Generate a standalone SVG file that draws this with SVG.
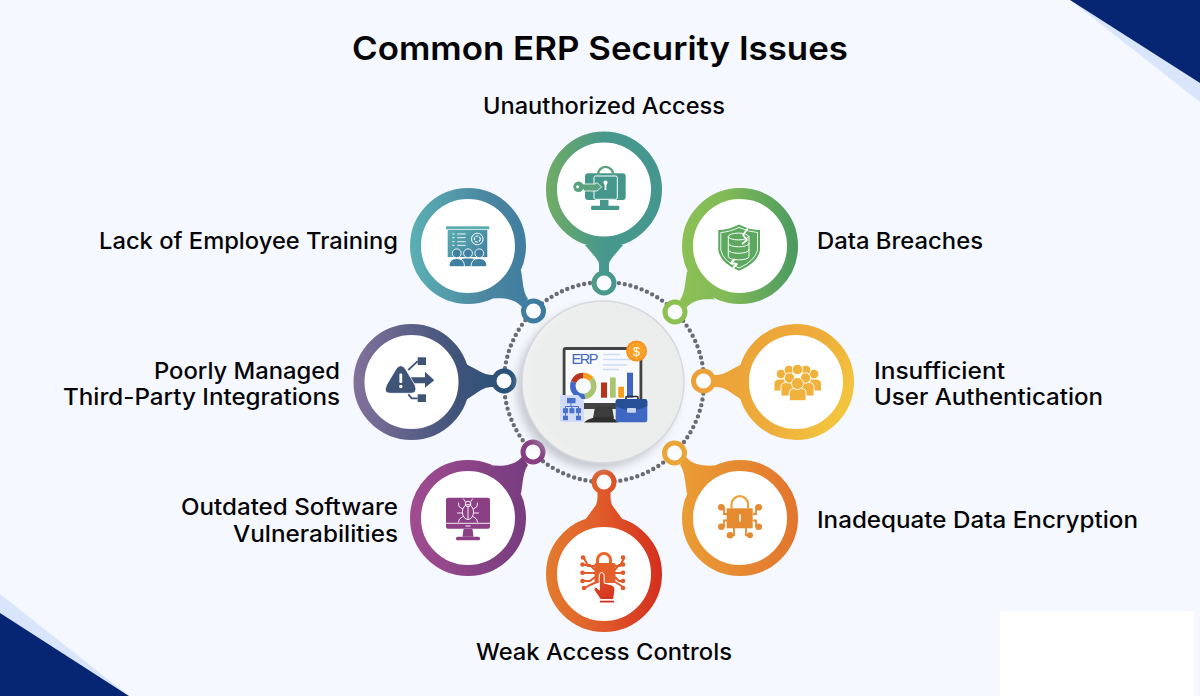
<svg xmlns="http://www.w3.org/2000/svg" width="1200" height="696" viewBox="0 0 1200 696">
<style>
text{font-family:"Inter","Noto Sans","Liberation Sans",sans-serif;fill:#050507}
.l{font-size:22.5px;font-weight:500}
.t{font-size:33px;font-weight:600}
.ring{stroke-width:11;fill:#fff}
.tab{stroke-width:5;fill:#fbfcff}
.w{fill:none;stroke:#fff;stroke-linecap:round;stroke-linejoin:round}
.e{font-family:"Liberation Sans",Arial,sans-serif}
</style>
<defs>
<linearGradient id="g1" gradientUnits="userSpaceOnUse" x1="546" y1="190" x2="662" y2="190"><stop offset="0" stop-color="#70ac64"/><stop offset=".5" stop-color="#47988c"/><stop offset="1" stop-color="#45968f"/></linearGradient>
<linearGradient id="g2" gradientUnits="userSpaceOnUse" x1="665" y1="246" x2="798" y2="246"><stop offset="0" stop-color="#8fc353"/><stop offset=".45" stop-color="#82ba57"/><stop offset="1" stop-color="#4a9a60"/></linearGradient>
<linearGradient id="g3" gradientUnits="userSpaceOnUse" x1="410" y1="246" x2="546" y2="246"><stop offset="0" stop-color="#5bb0b3"/><stop offset=".6" stop-color="#4a84a0"/><stop offset="1" stop-color="#3b7a9f"/></linearGradient>
<linearGradient id="g4" gradientUnits="userSpaceOnUse" x1="354" y1="382" x2="517" y2="382"><stop offset="0" stop-color="#82719a"/><stop offset=".65" stop-color="#3e5379"/><stop offset="1" stop-color="#245277"/></linearGradient>
<linearGradient id="g5" gradientUnits="userSpaceOnUse" x1="700" y1="345" x2="850" y2="430"><stop offset="0" stop-color="#eb9e37"/><stop offset=".6" stop-color="#eead3a"/><stop offset="1" stop-color="#f4cc3f"/></linearGradient>
<linearGradient id="g6" gradientUnits="userSpaceOnUse" x1="662" y1="500" x2="798" y2="500"><stop offset="0" stop-color="#eca436"/><stop offset="1" stop-color="#e2752e"/></linearGradient>
<linearGradient id="g7" gradientUnits="userSpaceOnUse" x1="546" y1="570" x2="662" y2="570"><stop offset="0" stop-color="#e37c2f"/><stop offset=".5" stop-color="#e0592a"/><stop offset="1" stop-color="#d42e1e"/></linearGradient>
<linearGradient id="g8" gradientUnits="userSpaceOnUse" x1="410" y1="500" x2="546" y2="500"><stop offset="0" stop-color="#a14c90"/><stop offset="1" stop-color="#6f3a7c"/></linearGradient>
<linearGradient id="i3" gradientUnits="userSpaceOnUse" x1="446" y1="226" x2="489" y2="267"><stop offset="0" stop-color="#5cb0b2"/><stop offset="1" stop-color="#3c7a9d"/></linearGradient>
<linearGradient id="i7" gradientUnits="userSpaceOnUse" x1="600" y1="552" x2="606" y2="603"><stop offset="0" stop-color="#e8702c"/><stop offset="1" stop-color="#d42e1e"/></linearGradient>
<radialGradient id="disc" cx=".55" cy=".5" r=".55"><stop offset="0" stop-color="#eeefef"/><stop offset=".85" stop-color="#ebecec"/><stop offset="1" stop-color="#f1f1f2"/></radialGradient>
<filter id="sh" x="-30%" y="-30%" width="160%" height="160%"><feGaussianBlur stdDeviation="5"/></filter>
</defs>

<rect id="background" width="1200" height="696" fill="#f5f8ff"/>
<rect x="1000" y="611" width="194" height="85" fill="#fff"/>
<polygon points="1070,0 1200,102 1200,83" fill="#d9e5fb"/>
<polygon points="1070,0 1200,83 1200,0" fill="#062673"/>
<polygon points="0,594 129,696 0,613" fill="#d9e5fb"/>
<polygon points="0,613 129,696 0,696" fill="#062673"/>

<text class="t" x="600" y="60" text-anchor="middle" textLength="496" lengthAdjust="spacingAndGlyphs">Common ERP Security Issues</text>

<g id="connectors">
<circle cx="604" cy="382" r="100" fill="none" stroke="#696d72" stroke-width="4.4" stroke-linecap="round" stroke-dasharray="0 5.85"/>
<path fill="url(#g1)" d="M585,245 L596,258 Q599.5,262 599,266 L599,272 L609,272 L609,266 Q608.5,262 612,258 L623,245Z"/>
<circle class="tab" cx="604" cy="283" r="10" stroke="url(#g1)"/>
<path fill="url(#g2)" d="M715,299.5 C705,299 694,299 686,308 L680,300 C685,293 685,283 687,271Z"/>
<circle class="tab" cx="675" cy="312" r="10" stroke="#8cc152"/>
<path fill="url(#g5)" d="M742,364 L727,372 Q722,375 717,375 L711,375 L711,387 L717,387 Q722,387 727,390 L742,400Z"/>
<circle class="tab" cx="703.5" cy="381" r="10" stroke="url(#g5)"/>
<path fill="url(#g6)" d="M715,465.5 C705,466 694,466 686,457 L680,465 C685,472 685,482 687,494Z"/>
<circle class="tab" cx="674.5" cy="453" r="10" stroke="#eca436"/>
<path fill="url(#g7)" d="M585,520 L596,505 Q597.5,501 597.5,497 L597.5,491 L610.5,491 L610.5,497 Q610.5,501 612,505 L623,520Z"/>
<circle class="tab" cx="604" cy="482" r="10" stroke="url(#g7)"/>
<path fill="url(#g8)" d="M493,465.5 C503,466 514,466 522,457 L528,465 C523,472 523,482 521,494Z"/>
<circle class="tab" cx="533" cy="452" r="10" stroke="#873e80"/>
<path fill="url(#g4)" d="M466,364 L481,372 Q486,375 491,375 L497,375 L497,387 L491,387 Q486,387 481,390 L466,400Z"/>
<circle class="tab" cx="504" cy="381" r="10" stroke="url(#g4)"/>
<path fill="url(#g3)" d="M493,298.5 C503,298 514,298 522,307 L528,299 C523,292 523,282 521,270Z"/>
<circle class="tab" cx="533.5" cy="311" r="10" stroke="url(#g3)"/>
</g>

<g id="center">
<circle cx="598" cy="388" r="81" fill="#aeb2b9" opacity=".7" filter="url(#sh)"/>
<circle cx="603" cy="382" r="81" fill="url(#disc)" stroke="#d7d8dc" stroke-width="1.5"/>
<rect x="562.7" y="347" width="79.6" height="62" rx="3" fill="#434343"/>
<rect x="565.5" y="350" width="74" height="53" fill="#f8fafe"/>
<polygon points="595,407 612,407 614,418 593,418" fill="#3c3c3c"/>
<path d="M584,422.5 Q590,417 600,417 L610,417 Q615,418 618,422.5Z" fill="#2e2e2e"/>
<text class="e" x="571.5" y="363.5" font-size="14.5" textLength="27" style="fill:#3f66c0">ERP</text>
<path d="M603,354.5H620M603,359.5H632M603,365H627M603,369.5H619" stroke="#cfdaf6" stroke-width="1.5" fill="none"/>
<g fill="none" stroke-width="5.5" transform="rotate(-90 583.3 386)">
<circle cx="583.3" cy="386" r="10.5" stroke="#f59e1b" stroke-dasharray="9.2 66"/>
<circle cx="583.3" cy="386" r="10.5" stroke="#a9c56f" stroke-dasharray="22 66" stroke-dashoffset="-9.2"/>
<circle cx="583.3" cy="386" r="10.5" stroke="#4068c4" stroke-dasharray="22 66" stroke-dashoffset="-31.2"/>
<circle cx="583.3" cy="386" r="10.5" stroke="#b7351c" stroke-dasharray="12.8 66" stroke-dashoffset="-53.2"/>
</g>
<rect x="601" y="382.5" width="6" height="15.2" fill="#b9331b"/>
<rect x="610" y="377.5" width="5.7" height="20.2" fill="#a9c56f"/>
<rect x="618.3" y="386.7" width="5.7" height="11" fill="#f59e1b"/>
<rect x="627" y="372.7" width="6" height="25" fill="#3f66c0"/>
<circle cx="636.5" cy="351" r="10.5" fill="#f7941d"/>
<circle cx="636.5" cy="351" r="7.5" fill="#f9a01f" stroke="#fdc56a" stroke-width=".8" stroke-dasharray="3 2"/>
<text class="e" x="636.5" y="355.5" font-size="12.5" text-anchor="middle" style="fill:#fff">$</text>
<path d="M560,397 Q560,395 562,395 L578,395 L584,401 L584,420 Q584,422 582,422 L562,422 Q560,422 560,420Z" fill="#cfdbf9"/>
<path d="M571,403V406M565.5,410V406.5H578.5V410M571.7,406.5V410M565.5,413V416M578.5,413V416" stroke="#4a70cc" stroke-width="1" fill="none"/>
<g fill="#4a70cc"><rect x="567" y="398" width="8.5" height="5.2"/><rect x="563" y="408.2" width="5" height="5"/><rect x="569.4" y="408.2" width="5" height="5"/><rect x="576" y="408.2" width="5" height="5"/><rect x="563" y="415.7" width="5" height="4.5"/><rect x="576" y="415.7" width="5" height="4.5"/></g>
<path d="M626,400 V397.5 Q626,396.5 627,396.5 H637 Q638,396.5 638,397.5 V400" fill="none" stroke="#2b2b33" stroke-width="1.6"/>
<rect x="615.7" y="399" width="31.6" height="23.3" rx="2.5" fill="#3f68c4"/>
<path d="M615.7,401.5 Q615.7,399 618,399 H645 Q647.3,399 647.3,401.5 V406 Q640,410 631.5,410 Q623,410 615.7,406Z" fill="#264f96"/>
<rect x="627" y="408" width="9" height="4.8" rx="1" fill="#c7d4f2"/>
</g>

<g id="node-unauthorized-access">
<circle class="ring" cx="604" cy="189.5" r="52.5" stroke="url(#g1)"/>
<rect x="585" y="173.3" width="40.7" height="26.7" rx="3" fill="#45978c"/>
<path d="M600,200 H608.5 V206 H600Z" fill="#45978c"/>
<rect x="591" y="205.7" width="28.3" height="4.3" rx="1.5" fill="#45978c"/>
<path d="M598,176 V174.5 A7.6,7.6 0 0 1 613.2,174.5 V176" fill="none" stroke="#5aa27e" stroke-width="2.4"/>
<rect x="594" y="176" width="23.3" height="23.3" rx="1.5" fill="#45978c" stroke="#fff" stroke-width="1"/>
<circle cx="605.5" cy="182.7" r="2.1" fill="#fff"/>
<rect x="604.6" y="183" width="1.8" height="7" fill="#fff"/>
<path d="M582,184 H595 L597,182.6 L601.7,187 L597,191 H584" fill="#5aa27e" stroke="#fff" stroke-width=".8"/>
<circle cx="578.5" cy="186.8" r="5.2" fill="#5aa27e"/>
<circle cx="577.6" cy="186.8" r="1.5" fill="#fff"/>
<text class="l" x="604" y="114" text-anchor="middle" textLength="242" lengthAdjust="spacingAndGlyphs">Unauthorized Access</text>
</g>

<g id="node-data-breaches">
<circle class="ring" cx="740" cy="246" r="52.5" stroke="url(#g2)"/>
<path d="M739,224.5 Q750,230 760,230 L760,250 Q758,263 739,270.7 Q720,263 718.3,250 L718.3,230 Q728,230 739,224.5Z" fill="#5ca85e"/>
<path class="w" stroke-width=".9" d="M739,227.5 Q749,232 757.5,232.5 L757.5,250 Q755,261 739,268 Q723,261 720.8,250 L720.8,232.5 Q729,232 739,227.5Z"/>
<g class="w" stroke-width="1"><ellipse cx="738.5" cy="236.5" rx="10.2" ry="3.4"/><path d="M728.3,236.5V256.5C728.3,261 749,261 749,256.5V236.5M728.3,243.5C728.3,248 749,248 749,243.5M728.3,250C728.3,254.5 749,254.5 749,250"/></g>
<path d="M748,228 L743,235 L747,240 L742,244 M735,259 L731,263 L737,264 L733,268" fill="none" stroke="#fff" stroke-width="1.8" stroke-linejoin="round"/>
<text class="l" x="817" y="249" textLength="166" lengthAdjust="spacingAndGlyphs">Data Breaches</text>
</g>

<g id="node-insufficient-user-authentication">
<circle class="ring" cx="796" cy="382" r="52.5" stroke="url(#g5)"/>
<g fill="#f0b23c" stroke="#fff" stroke-width=".9">
<path d="M774,391 V384 Q774,379 780,379 H785 V391Z"/><path d="M821.5,391 V384 Q821.5,379 815,379 H810 V391Z"/>
<circle cx="781" cy="374" r="4.8"/><circle cx="814" cy="374" r="4.8"/>
<circle cx="789" cy="370" r="4.8"/><circle cx="806" cy="370" r="4.8"/><circle cx="797.5" cy="369.5" r="5.2"/>
<path d="M781,396 V387 Q781,382.5 786,382.5 H809 Q814,382.5 814,387 V396Z"/>
<circle cx="789.5" cy="378" r="5.2"/><circle cx="805.5" cy="378" r="5.2"/>
<path d="M789.3,400.7 V393 Q789.3,388.5 794,388.5 H801 Q806,388.5 806,393 V400.7Z"/>
<circle cx="797.5" cy="383.5" r="6"/>
</g>
<text class="l" x="874" y="379" textLength="131" lengthAdjust="spacingAndGlyphs">Insufficient</text>
<text class="l" x="874" y="405" textLength="229" lengthAdjust="spacingAndGlyphs">User Authentication</text>
</g>

<g id="node-inadequate-data-encryption">
<circle class="ring" cx="740" cy="518" r="52.5" stroke="url(#g6)"/>
<rect x="726.7" y="508.3" width="26" height="20" fill="#e68a32"/>
<path d="M731.5,508.3 V504.5 A8.3,8.3 0 0 1 748.1,504.5 V508.3" fill="none" stroke="#eba23c" stroke-width="2.2"/>
<rect x="739.2" y="514.5" width="1.6" height="7" fill="#fff"/>
<path d="M721.3,507.3 H724 V514 H727 M758.7,507.3 H756 V514 H753 M721.3,526.7 H724 V520.5 H727 M758.7,526.7 H756 V520.5 H753 M730,535.3 H734 V528 M750,535.3 H746 V528" fill="none" stroke="#e68a32" stroke-width="1.8"/>
<g fill="#e68a32"><circle cx="721.3" cy="507.3" r="3.3"/><circle cx="758.7" cy="507.3" r="3.3"/><circle cx="721.3" cy="526.7" r="3.3"/><circle cx="758.7" cy="526.7" r="3.3"/><circle cx="730" cy="535.3" r="3.3"/><circle cx="750" cy="535.3" r="3"/></g>
<text class="l" x="817" y="528" textLength="321" lengthAdjust="spacingAndGlyphs">Inadequate Data Encryption</text>
</g>

<g id="node-weak-access-controls">
<circle class="ring" cx="604" cy="574" r="52.5" stroke="url(#g7)"/>
<path d="M597.5,563 V560 A6.5,6.5 0 0 1 610.5,560 V563" fill="none" stroke="#e8672a" stroke-width="3"/>
<rect x="594.5" y="563" width="21" height="20" rx="1.5" fill="#e4602a"/>
<path d="M595,566 H588 L584,558 M595,570 L590,565 H583 M595,573 H583 M595,577 L590,581 H583 M597,582 L590,585 L585,588 M615,566 H620 L624,558 M615,570 L619,565 H624 M615,573 H624 M615,577 L619,581 H624 M615,582 L620,585 L624,588" fill="none" stroke="#e25a29" stroke-width="2"/>
<g fill="#e25a29"><circle cx="583" cy="557.5" r="2.3"/><circle cx="582.5" cy="564.5" r="2.3"/><circle cx="582.5" cy="572.7" r="2.3"/><circle cx="582.5" cy="581" r="2.3"/><circle cx="584" cy="588" r="2.3"/><circle cx="623" cy="557.5" r="2.3"/><circle cx="623" cy="564.5" r="2.3"/><circle cx="623" cy="572.7" r="2.3"/><circle cx="623" cy="581" r="2.3"/><circle cx="623" cy="588" r="2.3"/></g>
<path d="M599.3,576 Q599.3,572.5 601.7,572.5 Q604.2,572.5 604.2,576 V583 L612,585 Q615,586 615,590 L613.5,599.5 H600.5 L594,590 Q593.5,586.5 596,587 L599.3,590Z" fill="url(#i7)" stroke="#fff" stroke-width="1"/>
<rect x="600" y="600.7" width="14" height="1.8" fill="#d42e1e"/>
<text class="l" x="604" y="660" text-anchor="middle" textLength="256" lengthAdjust="spacingAndGlyphs">Weak Access Controls</text>
</g>

<g id="node-outdated-software-vulnerabilities">
<circle class="ring" cx="468" cy="518" r="52.5" stroke="url(#g8)"/>
<rect x="446" y="497.7" width="44" height="31" rx="2" fill="#8b4085"/>
<path d="M446,523.3 H490" stroke="#fff" stroke-width=".9"/>
<rect x="465.5" y="525.5" width="5" height="1" fill="#fff"/>
<polygon points="463.5,529 472.5,529 473.5,536.7 462.5,536.7" fill="#8b4085"/>
<rect x="456" y="536.7" width="24" height="3.6" rx="1.6" fill="#8b4085"/>
<g class="w" stroke-width=".9"><ellipse cx="468" cy="512" rx="5.6" ry="7.5"/><circle cx="468" cy="504" r="2.8"/><path d="M468,506V519.5M462.5,509 L459,506.5 L458.5,503M462.4,513 H457.5M463,516.5 L459.5,519 L458.5,522M473.5,509 L477,506.5 L477.5,503M473.6,513 H478.5M473,516.5 L476.5,519 L477.5,522M465.5,502 L463.5,499M470.5,502 L472.5,499"/></g>
<text class="l" x="398" y="515" text-anchor="end" textLength="217" lengthAdjust="spacingAndGlyphs">Outdated Software</text>
<text class="l" x="398" y="542" text-anchor="end" textLength="165" lengthAdjust="spacingAndGlyphs">Vulnerabilities</text>
</g>

<g id="node-third-party-integrations">
<circle class="ring" cx="411.5" cy="382" r="52.5" stroke="url(#g4)"/>
<path d="M408.3,370 L417.7,361.2 M408.3,394.3 L411.7,398.3 H417.7" fill="none" stroke="#3f5578" stroke-width="1.8"/>
<rect x="417.7" y="357.3" width="8.3" height="7.7" fill="#3f5578"/>
<rect x="417.7" y="394.3" width="8.3" height="7.7" fill="#3f5578"/>
<path d="M410,377.3 H425 V371.7 L434.3,380.3 L425,387.7 V383.3 H410Z" fill="#3f5578"/>
<path d="M400.7,365.7 Q403.5,365.7 405.5,369 L415,385 Q418,393.3 411,393.3 H390 Q383,393.3 386.5,385 L396,369 Q398,365.7 400.7,365.7Z" fill="#3f5578" stroke="#fff" stroke-width=".8"/>
<rect x="399.4" y="373.5" width="2.8" height="9.5" rx="1" fill="#fff"/>
<circle cx="400.8" cy="386.5" r="1.7" fill="#fff"/>
<text class="l" x="340" y="379" text-anchor="end" textLength="186" lengthAdjust="spacingAndGlyphs">Poorly Managed</text>
<text class="l" x="340" y="405" text-anchor="end" textLength="277" lengthAdjust="spacingAndGlyphs">Third-Party Integrations</text>
</g>

<g id="node-lack-of-employee-training">
<circle class="ring" cx="468" cy="246" r="52.5" stroke="url(#g3)"/>
<rect x="446" y="226.3" width="43.3" height="3" fill="#5cabaf"/>
<rect x="447.7" y="230" width="39.6" height="27" fill="url(#i3)"/>
<path d="M457.3,234H465.7M457.3,237.7H465.7M457.3,241.7H465.7M457.3,245.3H465.7M452.3,234H454.5M452.3,237.7H454.5M452.3,241.7H454.5M452.3,245.3H454.5" stroke="#fff" stroke-width=".9"/>
<circle cx="477.3" cy="239" r="5.8" fill="none" stroke="#fff" stroke-width="1"/>
<circle cx="477.3" cy="239" r="3" fill="none" stroke="#fff" stroke-width="1.1" stroke-dasharray="3 1"/>
<g fill="#3f7f9f" stroke="#fff" stroke-width=".9">
<path d="M461,266.7 V261 Q461,258 464,258 H472 Q475,258 475,261 V266.7Z"/>
<circle cx="456.7" cy="253.3" r="4.4"/><circle cx="468" cy="253.3" r="4.4"/><circle cx="479.3" cy="253.3" r="4.4"/>
<path d="M449,266.7 Q449,258.5 456.7,258.5 Q464.5,258.5 464.5,266.7Z"/>
<path d="M471,266.7 Q471,258.5 479,258.5 Q487,258.5 487,266.7Z"/>
</g>
<text class="l" x="398" y="249" text-anchor="end" textLength="299" lengthAdjust="spacingAndGlyphs">Lack of Employee Training</text>
</g>
</svg>
